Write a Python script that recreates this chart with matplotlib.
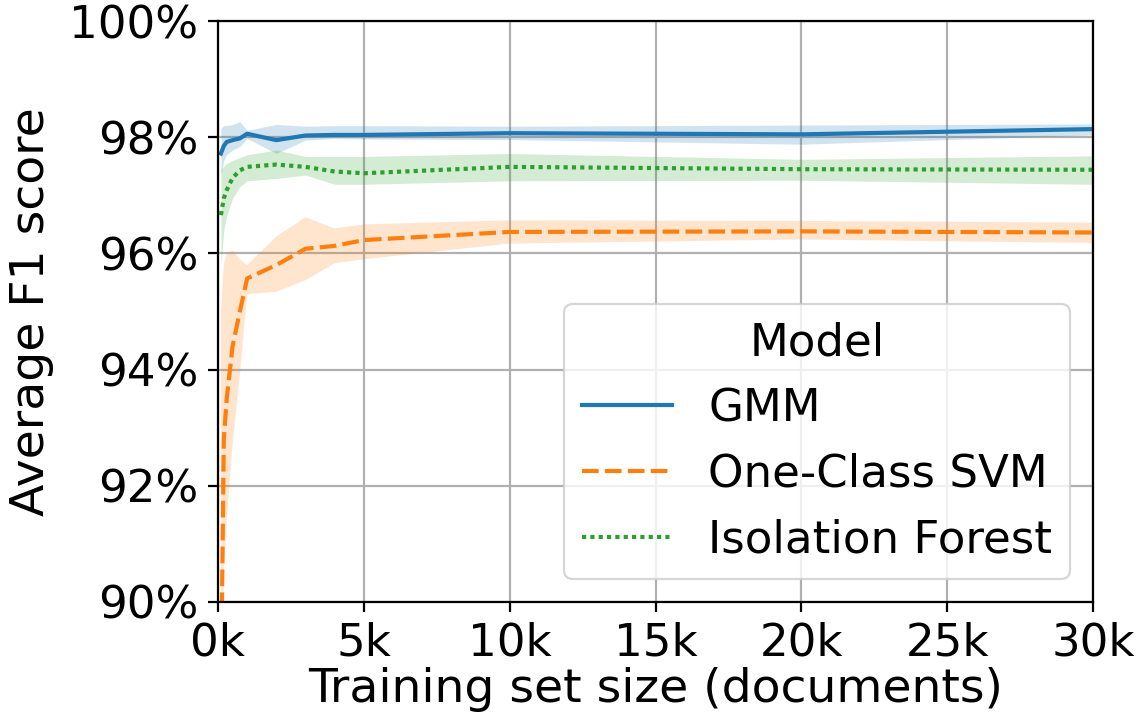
import matplotlib
matplotlib.use("Agg")
import matplotlib.pyplot as plt
from matplotlib.ticker import FuncFormatter

sizes = [100, 200, 300, 500, 750, 1000, 2000, 3000, 4000, 5000, 10000, 20000, 30000]

gmm_mean = [97.72, 97.85, 97.92, 97.95, 97.98, 98.06, 97.95, 98.03, 98.04, 98.04, 98.07, 98.05, 98.14]
gmm_low = [97.35, 97.60, 97.70, 97.78, 97.84, 97.98, 97.72, 97.95, 97.98, 97.97, 97.96, 97.88, 98.04]
gmm_high = [98.15, 98.20, 98.20, 98.22, 98.27, 98.12, 98.22, 98.19, 98.20, 98.20, 98.19, 98.21, 98.23]

svm_mean = [88.3, 92.8, 93.5, 94.4, 95.0, 95.57, 95.80, 96.08, 96.13, 96.23, 96.37, 96.38, 96.36]
svm_low = [80.0, 90.5, 91.4, 92.7, 93.9, 95.30, 95.34, 95.54, 95.83, 95.90, 96.17, 96.24, 96.18]
svm_high = [95.0, 95.8, 96.0, 96.05, 95.9, 95.80, 96.29, 96.62, 96.43, 96.50, 96.57, 96.56, 96.53]

if_mean = [96.66, 96.95, 97.09, 97.30, 97.43, 97.49, 97.53, 97.49, 97.41, 97.38, 97.49, 97.45, 97.44]
if_low = [95.80, 96.40, 96.65, 96.95, 97.15, 97.25, 97.29, 97.35, 97.19, 97.19, 97.25, 97.26, 97.19]
if_high = [97.45, 97.50, 97.55, 97.60, 97.65, 97.70, 97.78, 97.67, 97.67, 97.67, 97.72, 97.62, 97.68]

labels = ["GMM", "One-Class SVM", "Isolation Forest"]
colors = ["#1f77b4", "#ff7f0e", "#2ca02c"]
dashes = [None, (4, 1.5), (1, 1)]

TICK_FS = 32.5
LABEL_FS = 34
LEG_FS = 32.5

fig = plt.figure(figsize=(11.43, 7.26), dpi=100)
ax = fig.add_axes([0.1907, 0.1708, 0.7656, 0.8002])

series = [(gmm_mean, gmm_low, gmm_high), (svm_mean, svm_low, svm_high), (if_mean, if_low, if_high)]
for (m, lo, hi), lab, c, d in zip(series, labels, colors, dashes):
    ax.fill_between(sizes, [v / 100 for v in lo], [v / 100 for v in hi], color=c, alpha=0.2, linewidth=0)
    line, = ax.plot(sizes, [v / 100 for v in m], color=c, lw=3, label=lab)
    if d is not None:
        line.set_dashes(d)

ax.set_xlim(0, 30000)
ax.set_ylim(0.90, 1.00)
ax.set_xticks([0, 5000, 10000, 15000, 20000, 25000, 30000])
ax.set_yticks([0.90, 0.92, 0.94, 0.96, 0.98, 1.00])
ax.xaxis.set_major_formatter(FuncFormatter(lambda v, p: f"{int(v/1000)}k"))
ax.yaxis.set_major_formatter(FuncFormatter(lambda v, p: f"{v*100:.0f}%"))
ax.tick_params(labelsize=TICK_FS, width=1.6, length=7, pad=7)
for s in ax.spines.values():
    s.set_linewidth(1.6)
ax.grid(True, color="#b0b0b0", lw=1.6)
ax.set_axisbelow(True)
ax.set_xlabel("Training set size (documents)", fontsize=LABEL_FS, labelpad=2)
ax.set_ylabel("Average F1 score", fontsize=LABEL_FS)
ax.yaxis.set_label_coords(-0.187, 0.5)

leg = ax.legend(title="Model", loc="lower right", fontsize=LEG_FS, title_fontsize=LEG_FS,
                borderpad=0.4, labelspacing=0.5, borderaxespad=0.5)
leg.get_frame().set_linewidth(1.6)

fig.savefig("out.png", dpi=100)
